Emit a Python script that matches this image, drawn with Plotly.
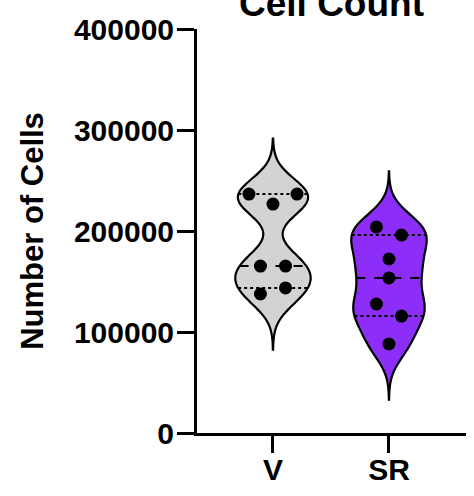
import numpy as np
import plotly.graph_objects as go

# ---- data ----
groups = ["V", "SR"]
v_values = [236600, 236600, 226700, 165300, 165300, 137600, 143600]
sr_values = [204000, 196000, 172300, 153500, 127700, 115800, 88100]
y_ticks = [0, 100000, 200000, 300000, 400000]
title_text = "Cell Count"
y_title = "Number of Cells"

# scatter placement (horizontal spread of dots within each violin)
v_spread = [-0.207, 0.207, 0.0, -0.108, 0.108, -0.108, 0.108]
sr_spread = [-0.108, 0.108, 0.0, 0.0, -0.108, 0.108, 0.0]

BW = 17500
TAIL = 55000
VW = 0.65
colors = ["#D3D3D3", "#8C2EF7"]
FONT = "Liberation Sans"

fig = go.Figure()


def kde(vals, y):
    vals = np.asarray(vals, float)
    return np.exp(-0.5 * ((y[:, None] - vals[None, :]) / BW) ** 2).sum(axis=1)


for i, (name, vals, spread) in enumerate(
    [(groups[0], v_values, v_spread), (groups[1], sr_values, sr_spread)]
):
    lo, hi = min(vals) - TAIL, max(vals) + TAIL
    fig.add_trace(go.Violin(
        y=vals, x0=i, name=name, bandwidth=BW, width=VW, scalemode="width",
        spanmode="manual", span=[lo, hi], points=False, fillcolor=colors[i],
        line=dict(color="black", width=2.2), opacity=1,
        box_visible=False, meanline_visible=False, showlegend=False,
    ))
    grid = np.linspace(lo, hi, 2000)
    dmax = kde(vals, grid).max()
    q1, med, q3 = np.percentile(vals, [25, 50, 75], method="weibull")
    for q, dash in [(q1, "dot"), (med, "dash"), (q3, "dot")]:
        hw = VW / 2 * kde(vals, np.array([q]))[0] / dmax
        fig.add_trace(go.Scatter(
            x=[i - hw, i + hw], y=[q, q], mode="lines",
            line=dict(color="black", width=2, dash=dash),
            showlegend=False, hoverinfo="skip",
        ))
    fig.add_trace(go.Scatter(
        x=[i + s for s in spread], y=vals, mode="markers",
        marker=dict(color="black", size=13, line=dict(width=0)),
        showlegend=False,
    ))

axis_common = dict(
    showline=True, linecolor="black", linewidth=3, ticks="outside",
    ticklen=17, tickwidth=3, tickcolor="black", showgrid=False, zeroline=False,
    automargin=False,
    tickfont=dict(family=FONT, size=30, color="black", weight="bold"),
)

fig.update_layout(
    width=474, height=496,
    margin=dict(l=197, r=8, t=29, b=63),
    paper_bgcolor="white", plot_bgcolor="white",
    title=dict(text=title_text, x=0.5, xref="paper", y=0.994, yref="container",
               yanchor="middle",
               font=dict(family=FONT, size=37, color="black", weight="bold")),
    xaxis=dict(range=[-0.655, 1.664], tickvals=[0, 1], ticktext=groups,
               ticklabelstandoff=-9, **axis_common),
    yaxis=dict(range=[0, 400000], tickvals=y_ticks, tickformat="d",
               ticklabelstandoff=-3,
               title=dict(text=y_title, standoff=22,
                          font=dict(family=FONT, size=31, color="black",
                                    weight="bold")),
               **axis_common),
)

fig.write_html("out.html")
